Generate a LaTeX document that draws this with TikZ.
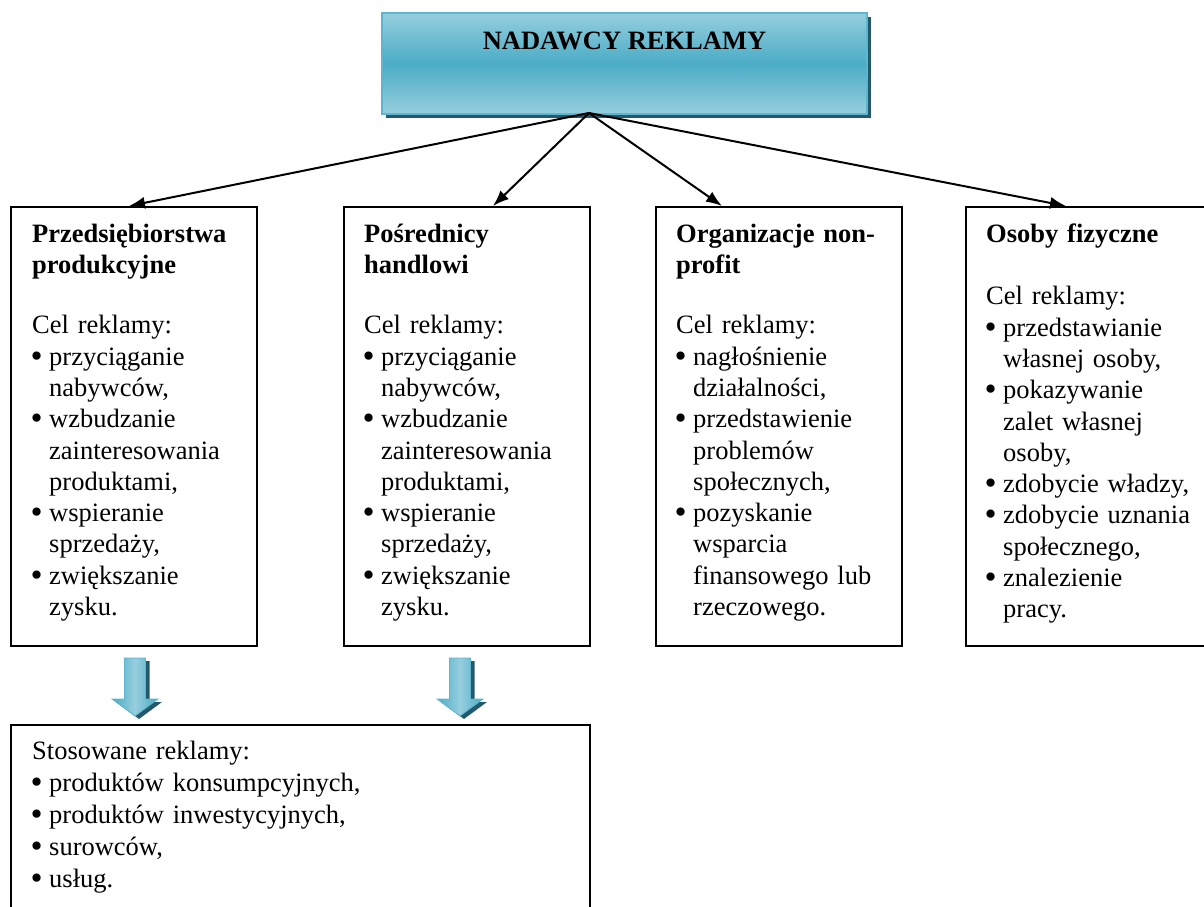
\documentclass[tikz,border=0pt]{standalone}
\usepackage{fontspec}
\setmainfont{Liberation Serif}
\usetikzlibrary{arrows.meta,calc,shadows}

\definecolor{accentlight}{HTML}{96CEDE}
\definecolor{accent}{HTML}{4BACC6}
\definecolor{accentdark}{HTML}{23596A}
\definecolor{accentedge}{HTML}{5DB6CD}

% bullet with a fixed hang, and the matching indent for continuation lines
\newcommand\bul{\makebox[17pt][l]{\hspace*{-1.5pt}\raisebox{-2pt}{\scalebox{1.3}{\textbullet}}}}
\newcommand\ind{\hspace*{17pt}}
\newcommand\fl{\rule{0pt}{20pt}}

\tikzset{
  box/.style={draw=black, line width=2pt, fill=white, anchor=north west,
    inner sep=0pt},
  txt/.style={anchor=north west, inner sep=0pt, align=left,
    text width=#1, font=\fontsize{26.5}{31.3}\selectfont},
  txt/.default=228pt,
  conn/.style={line width=2pt, -{Latex[length=16pt,width=12pt]}},
  headbox/.style={anchor=north west, inner sep=0pt,
    top color=accentlight, bottom color=accentlight, middle color=accent,
    draw=accentedge, line width=2pt,
    drop shadow={shadow xshift=4pt, shadow yshift=-4pt, fill=accentdark,
      opacity=1}},
  blockarrow/.pic={
    \begin{scope}[shift={(4,3)}]
      \fill[accentdark] (-10.5,0) -- (10.5,0) -- (10.5,41) -- (23,41)
        -- (0,58) -- (-23,41) -- (-10.5,41) -- cycle;
    \end{scope}
    \path[left color=accent, right color=accent, middle color=accentlight,
      draw=accentedge, line width=0.8pt]
      (-10.5,0) -- (10.5,0) -- (10.5,41) -- (23,41)
        -- (0,58) -- (-23,41) -- (-10.5,41) -- cycle;
  }
}

\begin{document}
\begin{tikzpicture}[x=1pt,y=-1pt]
\useasboundingbox (0,0) rectangle (1204,907);
\clip (0,0) rectangle (1204,907);

% header
\node[headbox, minimum width=485pt, minimum height=101pt] (title) at (381,12) {};
\node[anchor=base, inner sep=0pt, font=\bfseries\fontsize{26.5}{30}\selectfont]
  (titletxt) at ($(title.north)+(0,37)$) {NADAWCY REKLAMY};
\coordinate (src) at (589,113);

% the four kinds of advertisers
\node[box, minimum width=246pt, minimum height=439pt] (p1) at (10,206) {};
\node[box, minimum width=246pt, minimum height=439pt] (p2) at (343,206) {};
\node[box, minimum width=246pt, minimum height=439pt] (p3) at (655,206) {};
\node[box, minimum width=262pt, minimum height=439pt] (p4) at (965,206) {};

\node[txt] (t1) at ($(p1.north west)+(22,16)$) {\fl\textbf{Przedsiębiorstwa}\\
  \textbf{produkcyjne}\\[29pt]
  Cel reklamy:\\
  \bul przyciąganie\\ \ind nabywców,\\
  \bul wzbudzanie\\ \ind zainteresowania\\ \ind produktami,\\
  \bul wspieranie\\ \ind sprzedaży,\\
  \bul zwiększanie\\ \ind zysku.};

\node[txt] (t2) at ($(p2.north west)+(21,16)$) {\fl\textbf{Pośrednicy}\\
  \textbf{handlowi}\\[29pt]
  Cel reklamy:\\
  \bul przyciąganie\\ \ind nabywców,\\
  \bul wzbudzanie\\ \ind zainteresowania\\ \ind produktami,\\
  \bul wspieranie\\ \ind sprzedaży,\\
  \bul zwiększanie\\ \ind zysku.};

\node[txt] (t3) at ($(p3.north west)+(21,16)$) {\fl\textbf{Organizacje non-}\\
  \textbf{profit}\\[29pt]
  Cel reklamy:\\
  \bul nagłośnienie\\ \ind działalności,\\
  \bul przedstawienie\\ \ind problemów\\ \ind społecznych,\\
  \bul pozyskanie\\ \ind wsparcia\\ \ind finansowego lub\\ \ind rzeczowego.};

\node[txt] (t4) at ($(p4.north west)+(21,16)$) {\fl\textbf{Osoby fizyczne}\\[31.3pt]
  Cel reklamy:\\
  \bul przedstawianie\\ \ind własnej osoby,\\
  \bul pokazywanie\\ \ind zalet własnej\\ \ind osoby,\\
  \bul zdobycie władzy,\\
  \bul zdobycie uznania\\ \ind społecznego,\\
  \bul znalezienie\\ \ind pracy.};

% kinds of advertising used
\node[box, minimum width=579pt, minimum height=220pt] (ads) at (10,724) {};
\node[txt=540pt, font=\fontsize{26.5}{32}\selectfont] (t5)
  at ($(ads.north west)+(22,15)$) {\fl Stosowane reklamy:\\
  \bul produktów konsumpcyjnych,\\
  \bul produktów inwestycyjnych,\\
  \bul surowców,\\
  \bul usług.};

% connectors
\draw[conn] (src) -- ($(p1.north west)+(119,0)$);
\draw[conn] (src) -- ($(p2.north west)+(150,0)$);
\draw[conn] (src) -- ($(p3.north west)+(67,0)$);
\draw[conn] (src) -- ($(p4.north west)+(101,0)$);

\pic (ba1) at (135,658) {blockarrow};
\pic (ba2) at (460,658) {blockarrow};
\end{tikzpicture}
\end{document}
